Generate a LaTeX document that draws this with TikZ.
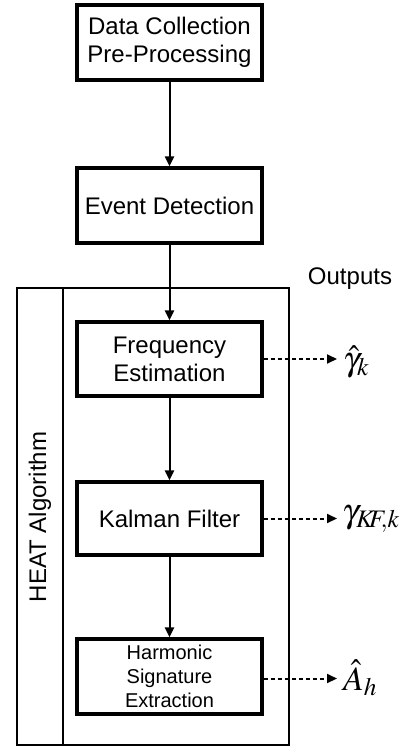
\documentclass[tikz,border=0pt]{standalone}
\usepackage{mathptmx}
\usepackage{fontspec}
\setmainfont{Liberation Sans}
\usetikzlibrary{arrows.meta}
\begin{document}
\begin{tikzpicture}[x=1pt,y=-1pt,
  blk/.style={draw,line width=3.2pt,minimum width=185pt,align=center,inner sep=0pt,
    font=\fontsize{24}{28}\selectfont},
  flow/.style={line width=2pt,-{Triangle[length=10pt,width=9pt]}},
  outflow/.style={line width=2pt,dash pattern=on 4pt off 3pt,shorten >=6pt,-{Triangle[length=10pt,width=9pt]}},
  lbl/.style={anchor=west,inner sep=0pt,font=\fontsize{34}{38}\selectfont},
  hframe/.style={line width=2pt}]
\useasboundingbox (0,0) rectangle (401,746);
% outer HEAT frame
\draw[hframe] (17,288) rectangle (289,744.5);
\draw[hframe] (63,288) -- (63,744.5);
\node[rotate=90,font=\fontsize{24}{28}\selectfont] (heat) at (40,517) {HEAT Algorithm};
\node[font=\fontsize{24}{28}\selectfont] (outs) at (350,279) {Outputs};
% blocks
\node[blk,minimum height=75pt] (dc) at (169.5,42.5) {Data Collection\\Pre-Processing};
\node[blk,minimum height=75pt] (ev) at (169.5,205.5) {Event Detection};
\node[blk,minimum height=74pt] (fe) at (169.5,359) {Frequency\\Estimation};
\node[blk,minimum height=73pt] (kf) at (169.5,518.5) {Kalman Filter};
\node[blk,minimum height=75pt,font=\fontsize{20}{24}\selectfont] (hs) at (169.5,676.5) {Harmonic\\Signature\\Extraction};
% flow arrows
\draw[flow] (dc) -- (ev);
\draw[flow] (ev) -- (fe);
\draw[flow] (fe) -- (kf);
\draw[flow] (kf) -- (hs);
% outputs
\node[lbl] (o1) at (343,362) {$\hat{\gamma}_k$};
\node[lbl] (o2) at (342,519) {$\gamma_{K\!\!F\!\!,k}$};
\node[lbl] (o3) at (343,678) {$\hat{A}_h$};
\draw[outflow] (fe.east) -- (fe.east -| o1.west);
\draw[outflow] (kf.east) -- ([xshift=1pt]kf.east -| o2.west);
\draw[outflow] ([yshift=-2pt]hs.east) -- ([yshift=-2pt]hs.east -| o3.west);
\end{tikzpicture}
\end{document}
